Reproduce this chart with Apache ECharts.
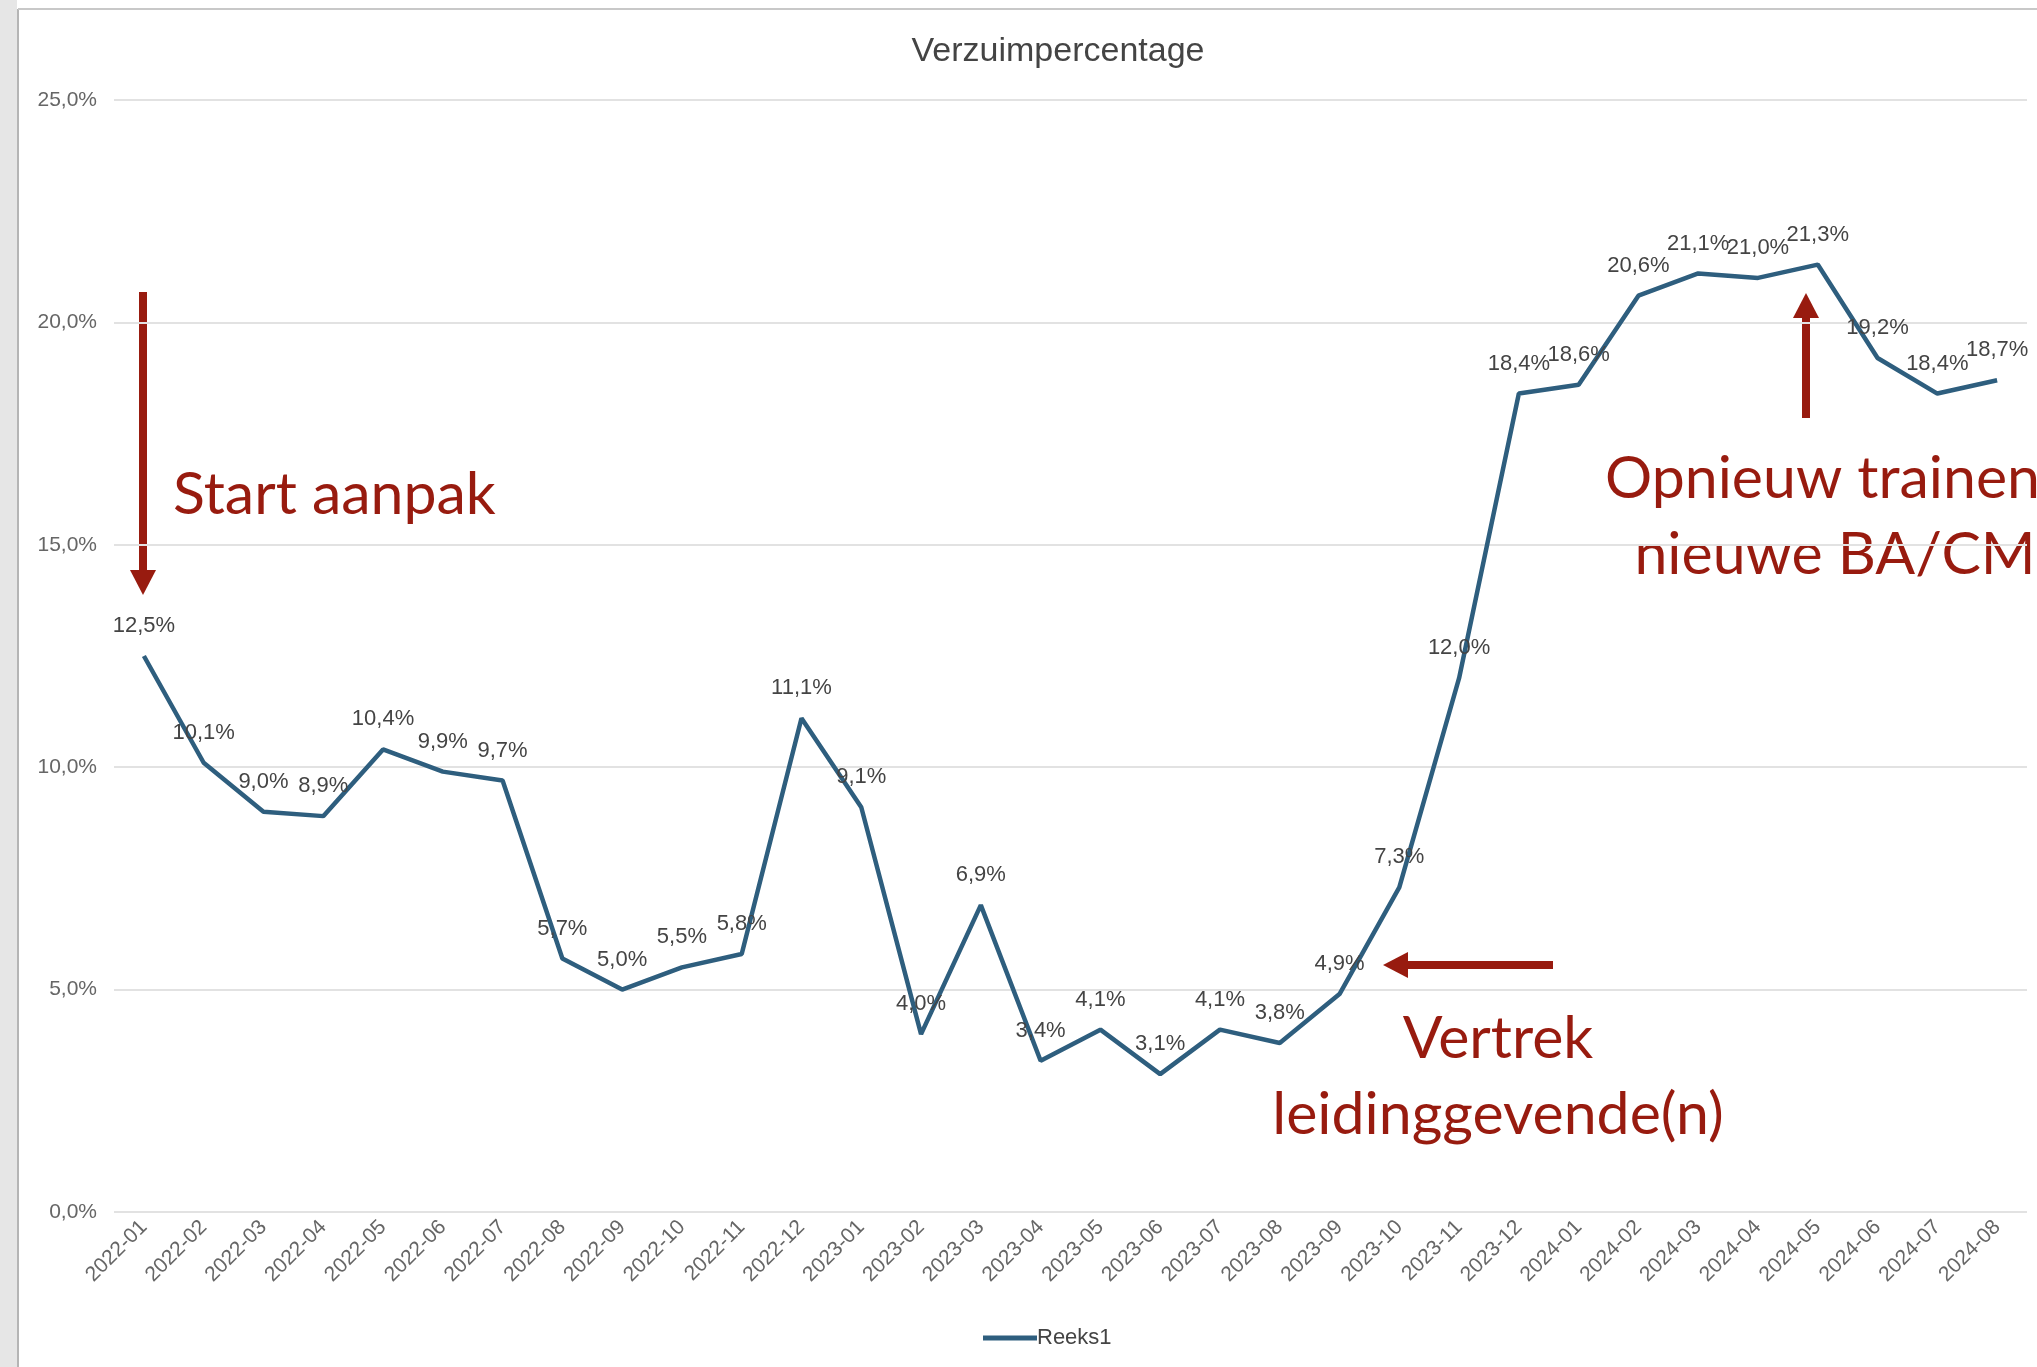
<!DOCTYPE html>
<html><head><meta charset="utf-8">
<script src="https://cdn.jsdelivr.net/npm/echarts@6/dist/echarts.min.js"></script>
<style>html,body{margin:0;padding:0;background:#fff}#c{width:2037px;height:1367px}</style>
</head><body><div id="c"></div>
<script>
const categories = ['2022-01','2022-02','2022-03','2022-04','2022-05','2022-06','2022-07','2022-08','2022-09','2022-10','2022-11','2022-12',
  '2023-01','2023-02','2023-03','2023-04','2023-05','2023-06','2023-07','2023-08','2023-09','2023-10','2023-11','2023-12',
  '2024-01','2024-02','2024-03','2024-04','2024-05','2024-06','2024-07','2024-08'];
const reeks1 = [12.5,10.1,9.0,8.9,10.4,9.9,9.7,5.7,5.0,5.5,5.8,11.1,9.1,4.0,6.9,3.4,4.1,3.1,4.1,3.8,4.9,7.3,12.0,18.4,18.6,20.6,21.1,21.0,21.3,19.2,18.4,18.7];
const yTicks = [0,5,10,15,20,25];

const red = '#981B0F';
const fmt = v => v.toFixed(1).replace('.', ',') + '%';
const annFont = 'Lato, "Open Sans", sans-serif';

const chart = echarts.init(document.getElementById('c'));
chart.setOption({
  animation: false,
  textStyle: { fontFamily: '"Liberation Sans", Arial, sans-serif' },
  title: { text: 'Verzuimpercentage', left: 1053, textAlign: 'center', top: 30,
    textStyle: { fontSize: 34, fontWeight: 'normal', color: '#444' } },
  grid: { left: 114, right: 10, top: 100, bottom: 155 },
  legend: { left: 978, top: 1322, itemWidth: 54, itemHeight: 5, icon: 'rect', itemGap: 0,
    textStyle: { fontSize: 22, color: '#444', padding: [0,0,0,-5] }, data: ['Reeks1'] },
  xAxis: { type: 'category', data: categories, boundaryGap: true,
    axisLine: { show: false }, axisTick: { show: false },
    axisLabel: { rotate: 45, fontSize: 21, color: '#666', margin: 12, interval: 0 } },
  yAxis: { type: 'value', min: yTicks[0], max: yTicks[yTicks.length-1], interval: 5,
    axisLine: { show: false }, axisTick: { show: false },
    splitLine: { lineStyle: { color: '#e2e2e2', width: 2 } },
    axisLabel: { fontSize: 21, color: '#666', margin: 17, formatter: v => fmt(v) } },
  series: [{ name: 'Reeks1', type: 'line', data: reeks1,
    symbol: 'circle', symbolSize: 0, showSymbol: true, showAllSymbol: true,
    lineStyle: { color: '#2E5E7E', width: 4.5 }, itemStyle: { color: '#2E5E7E' },
    label: { show: true, position: 'top', distance: 19, fontSize: 22, color: '#444',
      formatter: p => fmt(p.value) } }],
  graphic: [
    { type: 'rect', shape: { x: 0, y: 0, width: 17, height: 1367 }, style: { fill: '#e6e6e6' }, silent: true },
    { type: 'line', shape: { x1: 18, y1: 9, x2: 18, y2: 1367 }, style: { stroke: '#b5b5b5', lineWidth: 2 }, silent: true },
    { type: 'line', shape: { x1: 18, y1: 9, x2: 2037, y2: 9 }, style: { stroke: '#c8c8c8', lineWidth: 2 }, silent: true },
    // arrow 1 (down)
    { type: 'rect', shape: { x: 139, y: 292, width: 8, height: 282 }, style: { fill: red } },
    { type: 'polygon', shape: { points: [[130,570],[156,570],[143,595]] }, style: { fill: red } },
    // arrow 2 (up)
    { type: 'rect', shape: { x: 1802, y: 314, width: 8, height: 104 }, style: { fill: red } },
    { type: 'polygon', shape: { points: [[1793,318],[1819,318],[1806,293]] }, style: { fill: red } },
    // arrow 3 (left)
    { type: 'rect', shape: { x: 1404, y: 961, width: 149, height: 8 }, style: { fill: red } },
    { type: 'polygon', shape: { points: [[1408,952],[1408,978],[1383,965]] }, style: { fill: red } },
    { type: 'text', x: 173, y: 495, style: { text: 'Start aanpak', font: '59px ' + annFont, fill: red, textVerticalAlign: 'middle' } },
    { type: 'text', x: 2040, y: 479, style: { text: 'Opnieuw trainen', font: '59px ' + annFont, fill: red, textAlign: 'right', textVerticalAlign: 'middle' } },
    { type: 'text', x: 1835, y: 555, style: { text: 'nieuwe BA/CM', font: '59px ' + annFont, fill: red, textAlign: 'center', textVerticalAlign: 'middle' } },
    { type: 'text', x: 1498, y: 1039, style: { text: 'Vertrek', font: '59px ' + annFont, fill: red, textAlign: 'center', textVerticalAlign: 'middle' } },
    { type: 'text', x: 1498, y: 1115, style: { text: 'leidinggevende(n)', font: '59px ' + annFont, fill: red, textAlign: 'center', textVerticalAlign: 'middle' } }
  ]
});
</script></body></html>
